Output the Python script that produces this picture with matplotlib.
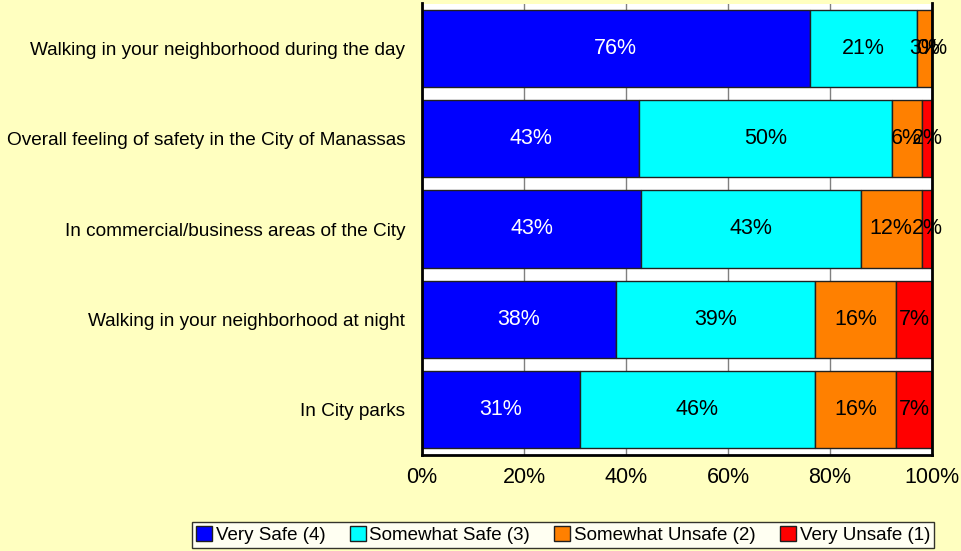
import numpy as np
import matplotlib
matplotlib.use("Agg")
import matplotlib.pyplot as plt

plt.rcParams['font.family'] = ['Liberation Sans', 'DejaVu Sans']

categories = [
    "Walking in your neighborhood during the day",
    "Overall feeling of safety in the City of Manassas",
    "In commercial/business areas of the City",
    "Walking in your neighborhood at night",
    "In City parks",
]
series_names = ["Very Safe (4)", "Somewhat Safe (3)", "Somewhat Unsafe (2)", "Very Unsafe (1)"]
very_safe = [76, 43, 43, 38, 31]
somewhat_safe = [21, 50, 43, 39, 46]
somewhat_unsafe = [3, 6, 12, 16, 16]
very_unsafe = [0, 2, 2, 7, 7]
xtick_labels = ["0%", "20%", "40%", "60%", "80%", "100%"]

colors = ["#0000FF", "#00FFFF", "#FF8000", "#FF0000"]
text_colors = ["white", "black", "black", "black"]
bg = "#FFFFC0"

data = np.array([very_safe, somewhat_safe, somewhat_unsafe, very_unsafe], dtype=float)
# shares scaled to 100% (rounded labels may add to 101)
shares = data / data.sum(axis=0) * 100

fig = plt.figure(figsize=(9.61, 5.51), dpi=100, facecolor=bg)
ax = fig.add_axes([422/961, 1 - 454.5/551, 510/961, 451/551])
ax.set_facecolor("white")

y = np.arange(len(categories))
left = np.zeros(len(categories))
for i in range(4):
    ax.barh(y, shares[i], left=left, height=0.855, color=colors[i],
            edgecolor="#202020", linewidth=1, label=series_names[i], zorder=2)
    for j in range(len(categories)):
        ax.text(left[j] + shares[i][j] / 2, y[j], "%d%%" % data[i][j],
                ha="center", va="center", fontsize=15.5, color=text_colors[i], zorder=3)
    left += shares[i]

ax.set_xlim(0, 100)
ax.set_ylim(len(categories) - 0.5, -0.5)
ax.set_yticks(y)
ax.set_yticklabels(categories, fontsize=13.7)
ax.set_xticks(np.arange(0, 101, 20))
ax.set_xticklabels(xtick_labels, fontsize=15.5)
ax.tick_params(axis="y", length=0, pad=12)
ax.tick_params(axis="x", length=0, pad=9)
ax.xaxis.grid(True, color="#808080", linewidth=1, zorder=0)
ax.set_axisbelow(True)
for s in ax.spines.values():
    s.set_linewidth(2)
    s.set_color("black")
ax.spines["top"].set_visible(False)

leg = fig.legend(loc="center", bbox_to_anchor=(563/961, 1 - 535/551), ncol=4,
                 fontsize=13.5, frameon=True, fancybox=False, edgecolor="black",
                 handlelength=0.85, handleheight=0.8, handletextpad=0.2,
                 columnspacing=1.3, borderpad=0.2, borderaxespad=0)
leg.get_frame().set_linewidth(1)

fig.savefig("out.png", dpi=100, facecolor=bg)
